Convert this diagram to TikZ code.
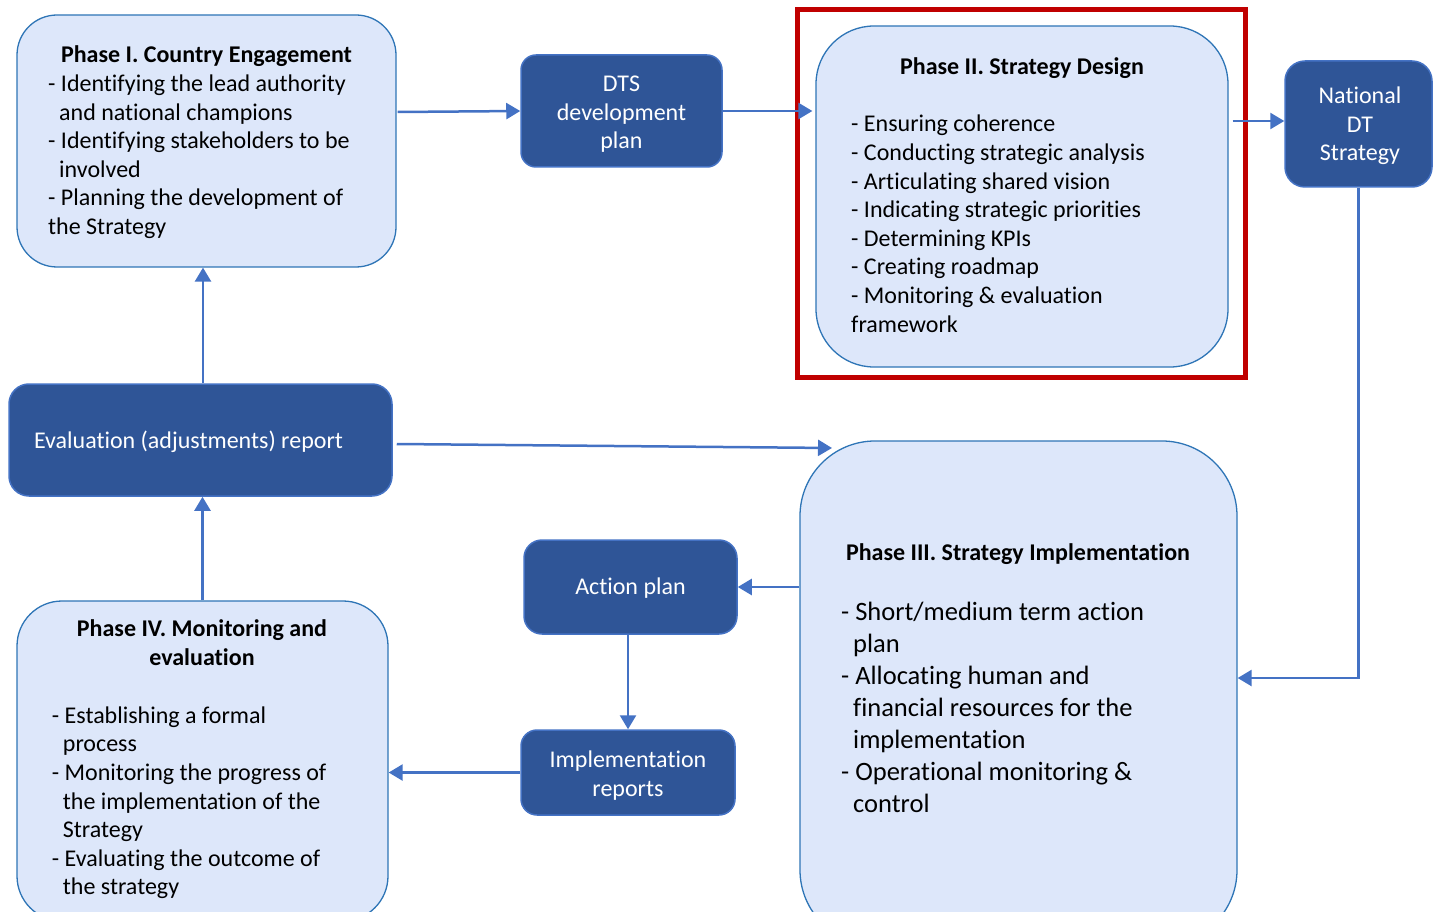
\documentclass[tikz,border=0pt]{standalone}
\usepackage{fontspec}
\setmainfont{Carlito}[Ligatures=NoCommon]
\usetikzlibrary{arrows.meta,calc}
\definecolor{darkfill}{HTML}{2F5597}
\definecolor{darkline}{HTML}{4472C4}
\definecolor{lightfill}{HTML}{DDE7FA}
\definecolor{lightline}{HTML}{2E75B6}
\definecolor{arrowc}{HTML}{4472C4}
\definecolor{redframe}{HTML}{C00000}
\newcommand\fsA{\fontsize{24}{28.6}\selectfont}
\newcommand\fsB{\fontsize{26.5}{32}\selectfont}
\newcommand\ind{\hspace*{11pt}}
\newcommand\indB{\hspace*{12pt}}
\tikzset{
  lightbox/.style={draw=lightline, fill=lightfill, line width=1.3pt, inner sep=0pt},
  darkbox/.style={draw=darkline, fill=darkfill, line width=1.5pt, inner sep=0pt},
  txt/.style={inner sep=0pt, font=\fsA},
  wtxt/.style={txt, text=white},
  conn/.style={draw=arrowc, line width=2.5pt, -{Triangle[length=14pt,width=16pt]}},
}
\begin{document}
\begin{tikzpicture}[x=1pt,y=-1pt]
\useasboundingbox (0,0) rectangle (1433,912);
\clip (0,0) rectangle (1433,912);
% boxes
\node[lightbox, minimum width=379pt, minimum height=252pt, rounded corners=40pt] (p1) at (206.5,141) {};
\node[darkbox, minimum width=201pt, minimum height=112pt, rounded corners=15pt] (dts) at (621.5,111) {};
\node[lightbox, minimum width=412pt, minimum height=341pt, rounded corners=58pt] (p2) at (1022,196.5) {};
\draw[redframe, line width=5pt] (797.5,9.5) rectangle (1245.5,377.5);
\node[darkbox, minimum width=147pt, minimum height=126pt, rounded corners=20pt] (nat) at (1358.5,124) {};
\node[darkbox, minimum width=383pt, minimum height=112pt, rounded corners=20pt] (eval) at (200.5,440) {};
\node[lightbox, minimum width=437pt, minimum height=504pt, rounded corners=75pt] (p3) at (1018.5,693) {};
\node[darkbox, minimum width=213pt, minimum height=94pt, rounded corners=18pt] (act) at (630.5,587) {};
\node[darkbox, minimum width=214pt, minimum height=85pt, rounded corners=16pt] (impl) at (628,772.5) {};
\node[lightbox, minimum width=371pt, minimum height=320pt, rounded corners=45pt] (p4) at (202.5,761) {};
% texts
\node[txt, font=\fsA\bfseries, anchor=base] (p1t) at (206.5,63) {Phase I. Country Engagement};
\node[txt, anchor=base west] (p1b) at (48,91.5) {\begin{tabular}[t]{@{}l@{}}- Identifying the lead authority\\ \ind and national champions\\ - Identifying stakeholders to be\\ \ind involved\\ - Planning the development of\\ the Strategy\end{tabular}};
\node[txt, font=\fsA\bfseries, anchor=base] (p2t) at (1022,75) {Phase II. Strategy Design};
\node[txt, anchor=base west] (p2b) at (851,132) {\begin{tabular}[t]{@{}l@{}}- Ensuring coherence\\ - Conducting strategic analysis\\ - Articulating shared vision\\ - Indicating strategic priorities\\ - Determining KPIs\\ - Creating roadmap\\ - Monitoring \& evaluation\\ framework\end{tabular}};
\node[txt, font=\fsA\bfseries, anchor=base] (p3t) at (1018,560) {Phase III. Strategy Implementation};
\node[txt, font=\fsB, anchor=base west] (p3b) at (841,620) {\begin{tabular}[t]{@{}l@{}}- Short/medium term action\\ \indB plan\\ - Allocating human and\\ \indB financial resources for the\\ \indB implementation\\ - Operational monitoring \&\\ \indB control\end{tabular}};
\node[txt, font=\fsA\bfseries, anchor=base] (p4t) at (202,636.7) {\begin{tabular}[t]{@{}c@{}}Phase IV. Monitoring and\\ evaluation\end{tabular}};
\node[txt, anchor=base west] (p4b) at (51.7,723.3) {\begin{tabular}[t]{@{}l@{}}- Establishing a formal\\ \ind process\\ - Monitoring the progress of\\ \ind the implementation of the\\ \ind Strategy\\ - Evaluating the outcome of\\ \ind the strategy\end{tabular}};
\node[wtxt, anchor=base] (dtst) at (621.5,91.5) {\begin{tabular}[t]{@{}c@{}}DTS\\ development\\ plan\end{tabular}};
\node[wtxt, anchor=base] (natt) at (1360,103.5) {\begin{tabular}[t]{@{}c@{}}National\\ DT\\ Strategy\end{tabular}};
\node[wtxt, anchor=base] (evalt) at (188.5,448.5) {Evaluation (adjustments) report};
\node[wtxt, anchor=base] (actt) at (630.5,594.5) {Action plan};
\node[wtxt, anchor=base] (implt) at (628,767.5) {\begin{tabular}[t]{@{}c@{}}Implementation\\ reports\end{tabular}};
% connectors
\coordinate (e10) at (832,448);
\draw[conn] ($(p1.east)+(1,-29)$) -- (dts.west);
\draw[conn] (dts.east) -- ($(dts.east -| p2.west)+(-3,0)$);
\draw[conn] ($(p2.east |- nat.west)+(4,-3)$) -- ($(nat.west)+(0,-3)$);
\draw[conn] (nat.south) |- ($(p3.east)+(0,-15)$);
\draw[conn] (act.east -| p3.west) -- (act.east);
\draw[conn] ($(act.south)+(-2.5,0)$) -- ($(act.south |- impl.north)+(-2.5,0)$);
\draw[conn] (impl.west) -- (impl.west -| p4.east);
\draw[conn] (p4.north) -- (p4.north |- eval.south);
\draw[conn] ($(eval.north)+(2.5,0)$) -- ($(eval.north |- p1.south)+(2.5,0)$);
\draw[conn] ($(eval.east)+(4,4)$) -- (e10);
\end{tikzpicture}
\end{document}
